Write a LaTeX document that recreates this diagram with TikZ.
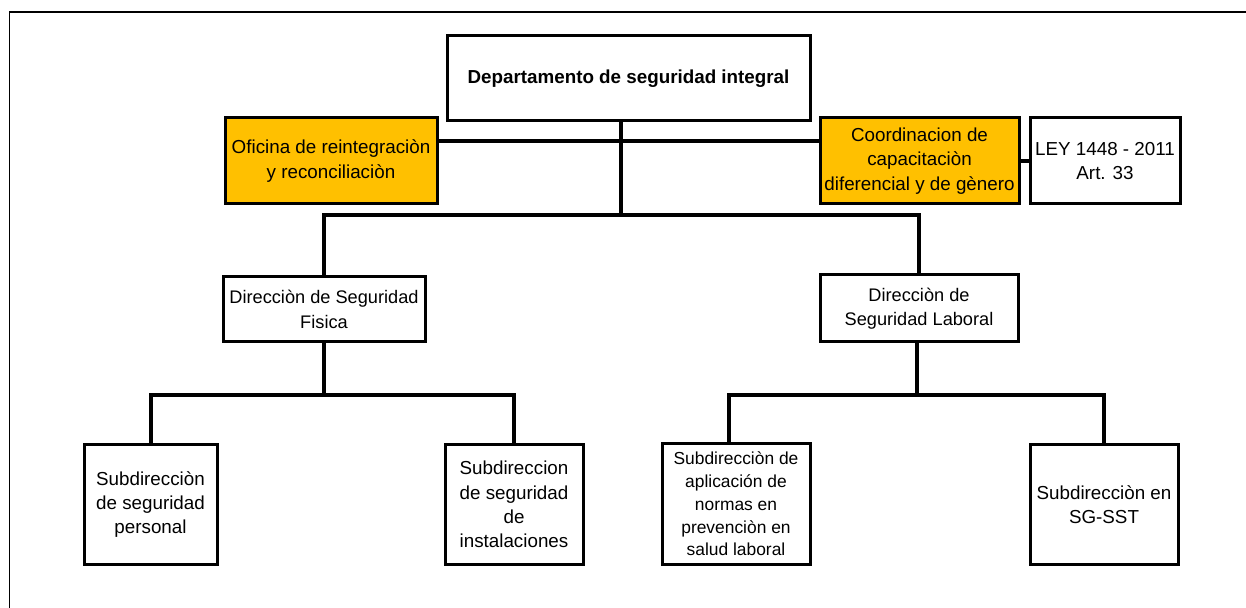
\documentclass[tikz,border=0pt]{standalone}
\usepackage{fontspec}
\setmainfont{Liberation Sans}
\usetikzlibrary{positioning}
\definecolor{orgorange}{RGB}{255,192,0}
\tikzset{x=0.5pt,y=-0.5pt}

\begin{document}
\begin{tikzpicture}
% Style
[
    unit box/.style={draw, line width=1.5pt, fill=white, align=center, inner sep=0pt,
        font=\fontsize{9.4pt}{12.2pt}\selectfont},
    staff box/.style={unit box, fill=orgorange},
    small text/.style={font=\fontsize{8.7pt}{11.4pt}\selectfont},
    org line/.style={line width=2pt},
    frame line/.style={line width=1pt}
]

%=================================== Start ===================================
{
    % Define: Frame
    \useasboundingbox (0,0) rectangle (1246,608);
    \draw[frame line] (9,12) -- (1246,12);
    \draw[line width=0.5pt] (9,12) -- (9,608);

    % Define: Trunk points
    \coordinate (trunk) at (621,215);
    \coordinate (staff line) at (621,141);
    \coordinate (fis bus) at (324,395);
    \coordinate (lab bus) at (917,395);

    % Draw: Head
    \node[unit box, minimum width=181.5pt, minimum height=42.5pt,
          font=\fontsize{9.4pt}{12.2pt}\selectfont\bfseries]
        (head) at (628.5,78.5) {Departamento de seguridad integral};

    % Draw: Staff offices
    \node[staff box, minimum width=106pt, minimum height=43pt]
        (oficina) at (331,161) {Oficina de reintegraciòn\\y reconciliaciòn};
    \node[staff box, minimum width=99.5pt, minimum height=43pt]
        (coordinacion) at (919.5,161) {Coordinacion de\\capacitaciòn\\diferencial y de gènero};
    \node[unit box, minimum width=75pt, minimum height=43pt]
        (ley) at (1105,161) {LEY 1448 - 2011\\Art. 33};

    % Draw: Directions
    \node[unit box, minimum width=101pt, minimum height=32.5pt,
          font=\fontsize{9.1pt}{12.2pt}\selectfont]
        (fisica) at (324,309.5) {Direcciòn de Seguridad\\Fisica};
    \node[unit box, minimum width=99pt, minimum height=33.5pt,
          font=\fontsize{9.1pt}{12.2pt}\selectfont]
        (laboral) at (919,308.5) {Direcciòn de\\Seguridad Laboral};

    % Draw: Sub-directions
    \node[unit box, minimum width=66.5pt, minimum height=59.5pt]
        (personal) at (150.5,504.5) {Subdirecciòn\\de seguridad\\personal};
    \node[unit box, minimum width=69pt, minimum height=59.5pt]
        (instalaciones) at (514,504.5) {Subdireccion\\de seguridad\\de\\instalaciones};
    \node[unit box, small text, minimum width=74pt, minimum height=60pt]
        (aplicacion) at (736,504) {Subdirecciòn de\\aplicación de\\normas en\\prevenciòn en\\salud laboral};
    \node[unit box, minimum width=74pt, minimum height=59.5pt]
        (sgsst) at (1104,504.5) {Subdirecciòn en\\SG-SST};

    % Draw: Lines
    \draw[org line] (head.south -| trunk) -- (trunk);
    \draw[org line] (oficina.east |- staff line) -- (coordinacion.west |- staff line);
    \draw[org line] (coordinacion.east) -- (ley.west);
    \draw[org line] (fisica.north) |- (trunk) -| (laboral.north);
    \draw[org line] (fisica.south) -- (fis bus);
    \draw[org line] (personal.north) |- (fis bus) -| (instalaciones.north);
    \draw[org line] (laboral.south -| lab bus) -- (lab bus);
    \draw[org line] ([xshift=-3.5pt]aplicacion.north) |- (lab bus) -| (sgsst.north);
}
%==================================== END ====================================

\end{tikzpicture}
\end{document}
